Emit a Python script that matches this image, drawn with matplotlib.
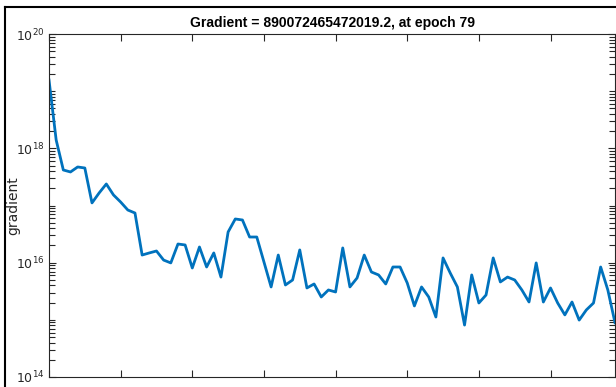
import numpy as np
import matplotlib.pyplot as plt
from matplotlib.ticker import FixedLocator, NullFormatter

# gradient per training epoch (0..79)
epochs = np.arange(80)
gradient = [
    1.57e19, 1.40e18, 4.18e17, 3.86e17, 4.72e17, 4.53e17, 1.11e17, 1.66e17,
    2.38e17, 1.53e17, 1.15e17, 8.34e16, 7.39e16, 1.36e16, 1.48e16, 1.60e16,
    1.11e16, 9.90e15, 2.12e16, 2.04e16, 8.07e15, 1.88e16, 8.40e15, 1.48e16,
    5.60e15, 3.44e16, 5.81e16, 5.58e16, 2.81e16, 2.81e16, 1.03e16, 3.76e15,
    1.36e16, 4.07e15, 4.98e15, 1.67e16, 3.61e15, 4.24e15, 2.51e15, 3.33e15,
    3.07e15, 1.81e16, 3.76e15, 5.40e15, 1.36e16, 6.87e15, 6.10e15, 4.24e15,
    8.40e15, 8.40e15, 4.42e15, 1.75e15, 3.76e15, 2.51e15, 1.12e15, 1.21e16,
    6.60e15, 3.76e15, 8.10e14, 6.10e15, 1.97e15, 2.72e15, 1.21e16, 4.60e15,
    5.60e15, 4.98e15, 3.33e15, 2.05e15, 9.90e15, 2.05e15, 3.61e15, 1.97e15,
    1.22e15, 2.05e15, 9.90e14, 1.49e15, 1.97e15, 8.40e15, 3.33e15,
    890072465472019.2,
]
ytick_vals = [1e14, 1e16, 1e18, 1e20]
xtick_vals = [0, 10, 20, 30, 40, 50, 60, 70]

gray = (0.15, 0.15, 0.15)

fig = plt.figure(figsize=(6.16, 3.87), dpi=100)
ax = fig.add_axes([49/616, 10/387, 566/616, 343/387])

ax.plot(epochs, gradient, color=(0, 0.447, 0.741), lw=2)

ax.set_yscale('log')
ax.set_ylim(1e14, 1e20)
ax.set_xlim(0, 79)
ax.set_xticks(xtick_vals)
ax.yaxis.set_major_locator(FixedLocator(ytick_vals))
minor = [m * 10.0**e for e in range(14, 20) for m in range(1, 10)]
ax.yaxis.set_minor_locator(FixedLocator(minor))
ax.yaxis.set_minor_formatter(NullFormatter())

ax.tick_params(which='both', direction='in', top=True, right=True,
               colors=gray, labelbottom=False, labelsize=9)
ax.tick_params(axis='y', which='minor', left=True, right=True,
               length=4, width=0.8)
ax.tick_params(which='major', length=5, width=0.8)
for s in ax.spines.values():
    s.set_color(gray)
    s.set_linewidth(0.8)

ax.set_ylabel('gradient', fontsize=10, color=gray)
ax.yaxis.set_label_coords(-0.05, 0.5)
ax.set_title('Gradient = 890072465472019.2, at epoch 79',
             fontsize=10, fontweight='bold',
             family=['Liberation Sans Narrow', 'Liberation Sans', 'DejaVu Sans'],
             pad=5)

# frame lines along the left and top edges
fig.add_artist(plt.Line2D([5/616, 5/616], [0, 1 - 7/387], color='black', lw=1.5,
                          transform=fig.transFigure))
fig.add_artist(plt.Line2D([5/616, 1], [1 - 7/387, 1 - 7/387], color='black', lw=1.5,
                          transform=fig.transFigure))

fig.savefig('out.png', dpi=100)
